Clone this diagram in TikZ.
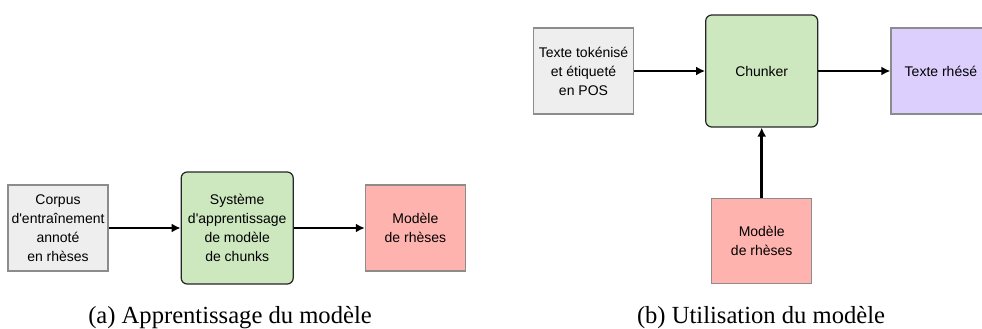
\documentclass[tikz,border=0pt]{standalone}
\usepackage{fontspec}
\setmainfont{Liberation Serif}
\setsansfont{Liberation Sans}
\usepackage{tikz}
\usetikzlibrary{positioning, arrows.meta}
\usepackage{xcolor}
\definecolor{gris}{HTML}{EEEEEE}
\definecolor{vert}{HTML}{CDE7BF}
\definecolor{rose}{HTML}{FFB3AE}
\definecolor{mauve}{HTML}{DCCFFD}
\definecolor{bord}{HTML}{8C8C8C}

\begin{document}
\begin{tikzpicture}[x=1pt, y=-1pt,
    fleche/.style={draw=black, line width=2.7pt, -{Latex[length=9pt, width=9pt]}},
    boite/.style={draw=bord, line width=1.2pt, minimum width=100pt, minimum height=86pt, inner sep=0pt, align=center, font=\sffamily\fontsize{14}{19}\selectfont},
    bloc/.style={boite, draw=black!85, rounded corners=6pt, minimum width=112pt, minimum height=112pt},
    legende/.style={anchor=base, font=\fontsize{24.6}{28}\selectfont}]
    \useasboundingbox (0,0) rectangle (982,329);

    % (a)
    \node[boite, fill=gris] (corpus) at (58,228) {Corpus\\d\textquotesingle entraînement\\annoté\\en rhèses};
    \node[bloc, right=72pt of corpus, fill=vert] (systeme) {Système\\d\textquotesingle apprentissage\\de modèle\\de chunks};
    \node[boite, right=71pt of systeme, fill=rose] (modele-a) {Modèle\\de rhèses};
    \node[legende] (legende-a) at (230,323) {(a) Apprentissage du modèle};

    % (b)
    \node[boite, fill=gris] (texte-pos) at (583.5,71) {Texte tokénisé\\et étiqueté\\en POS};
    \node[bloc, right=71pt of texte-pos, fill=vert] (chunker) {Chunker};
    \node[boite, right=72pt of chunker, fill=mauve] (texte-rhese) {Texte rhésé};
    \node[boite, below=70pt of chunker, fill=rose, minimum height=85pt] (modele-b) {Modèle\\de rhèses};
    \node[legende] (legende-b) at (761,323) {(b) Utilisation du modèle};

    \draw[fleche] (corpus) -- (systeme);
    \draw[fleche] (systeme) -- (modele-a);
    \draw[fleche] (texte-pos) -- (chunker);
    \draw[fleche] (chunker) -- (texte-rhese);
    \draw[fleche] (modele-b) -- (chunker);
\end{tikzpicture}
\end{document}
